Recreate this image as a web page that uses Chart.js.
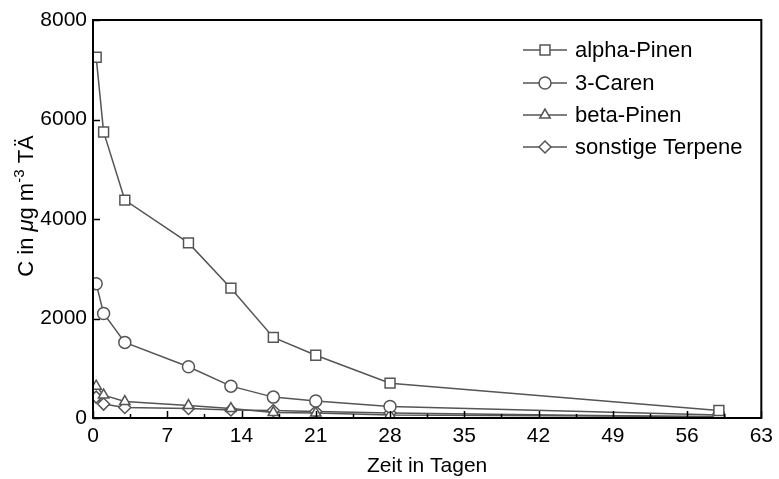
<!DOCTYPE html>
<html>
<head>
<meta charset="utf-8">
<script src="https://cdn.jsdelivr.net/npm/chart.js@4/dist/chart.umd.min.js"></script>
<style>
  html, body { margin: 0; padding: 0; background: #fff; }
  #wrap { width: 779px; height: 479px; }
</style>
</head>
<body>
<div id="wrap"><canvas id="chart" width="779" height="479"></canvas></div>
<script>
// Data
const days = [0.3, 1, 3, 9, 13, 17, 21, 28, 59];
const alphaPinen = [7250, 5750, 4380, 3520, 2610, 1620, 1260, 700, 150];
const caren3 = [2700, 2100, 1520, 1030, 640, 420, 340, 230, 60];
const betaPinen = [640, 460, 330, 250, 190, 110, 100, 60, 30];
const sonstige = [420, 280, 210, 190, 160, 150, 130, 100, 20];

const seriesNames = ['alpha-Pinen', '3-Caren', 'beta-Pinen', 'sonstige Terpene'];
const xTicks = [0, 7, 14, 21, 28, 35, 42, 49, 56, 63];
const yTicks = [0, 2000, 4000, 6000, 8000];

const FONT = '"Liberation Sans", Arial, Helvetica, sans-serif';
const GREY = '#555';

function makeSet(label, values, style, radius) {
  return {
    label,
    data: days.map((d, i) => ({ x: d, y: values[i] })),
    borderColor: GREY,
    borderWidth: 1.5,
    pointStyle: style,
    pointRadius: radius,
    pointBorderColor: GREY,
    pointBorderWidth: 1.5,
    pointBackgroundColor: '#fff',
    tension: 0,
    clip: 0
  };
}

// frame, inward ticks, titles and legend
const decorations = {
  id: 'decorations',
  afterDraw(chart) {
    const ctx = chart.ctx;
    const a = chart.chartArea;
    const xs = chart.scales.x, ys = chart.scales.y;
    ctx.save();
    ctx.strokeStyle = '#000';
    ctx.lineWidth = 1.5;
    // ticks
    ctx.beginPath();
    for (let v = 0; v <= 63; v += 3.5) {
      const px = Math.round(xs.getPixelForValue(v)) + 0.5;
      const len = (v % 7 === 0) ? 7 : 4;
      ctx.moveTo(px, a.bottom);
      ctx.lineTo(px, a.bottom - len);
    }
    yTicks.forEach(v => {
      const py = Math.round(ys.getPixelForValue(v)) + 0.5;
      ctx.moveTo(a.left, py);
      ctx.lineTo(a.left + 7, py);
    });
    ctx.stroke();
    // frame
    ctx.lineWidth = 2;
    ctx.strokeRect(a.left, a.top, a.right - a.left, a.bottom - a.top);

    // y title with italic mu and superscript
    ctx.fillStyle = '#000';
    ctx.textBaseline = 'alphabetic';
    const parts = [
      { t: 'C in ', f: '22px ' + FONT, dy: 0 },
      { t: 'μ', f: 'italic 22px ' + FONT, dy: 0 },
      { t: 'g m', f: '22px ' + FONT, dy: 0 },
      { t: '-3', f: '15px ' + FONT, dy: -9 },
      { t: ' TÄ', f: '22px ' + FONT, dy: 0 }
    ];
    let total = 0;
    parts.forEach(p => { ctx.font = p.f; p.w = ctx.measureText(p.t).width; total += p.w; });
    ctx.translate(33, 206);
    ctx.rotate(-Math.PI / 2);
    let cx = -total / 2;
    parts.forEach(p => {
      ctx.font = p.f;
      ctx.fillText(p.t, cx, p.dy);
      cx += p.w;
    });
    ctx.setTransform(1, 0, 0, 1, 0, 0);

    // legend
    const rows = [50, 83, 115, 147];
    chart.data.datasets.forEach((ds, i) => {
      const y = rows[i];
      ctx.strokeStyle = GREY;
      ctx.lineWidth = 1.5;
      ctx.beginPath();
      ctx.moveTo(523, y);
      ctx.lineTo(567, y);
      ctx.stroke();
      ctx.fillStyle = '#fff';
      Chart.helpers.drawPoint(ctx, {
        pointStyle: ds.pointStyle,
        radius: ds.pointRadius,
        borderWidth: 1.5,
        rotation: 0
      }, 545, y);
      ctx.fillStyle = '#000';
      ctx.font = '22px ' + FONT;
      ctx.textBaseline = 'middle';
      ctx.fillText(ds.label, 575, y + 1);
    });
    ctx.restore();
  }
};

new Chart(document.getElementById('chart'), {
  type: 'line',
  data: {
    datasets: [
      makeSet(seriesNames[0], alphaPinen, 'rect', 7),
      makeSet(seriesNames[1], caren3, 'circle', 6),
      makeSet(seriesNames[2], betaPinen, 'triangle', 6),
      makeSet(seriesNames[3], sonstige, 'rectRot', 6)
    ]
  },
  options: {
    responsive: false,
    animation: false,
    layout: { padding: { top: 20, right: 14, left: 0, bottom: 0 } },
    plugins: { legend: { display: false }, tooltip: { enabled: false } },
    scales: {
      x: {
        type: 'linear',
        min: 0,
        max: 63,
        afterBuildTicks: s => { s.ticks = xTicks.map(v => ({ value: v })); },
        afterFit: s => { s.height = 61; },
        grid: { display: false, drawTicks: false },
        border: { display: false },
        ticks: { color: '#000', padding: 6, maxRotation: 0, autoSkip: false, font: { family: FONT, size: 21 } },
        title: {
          display: true,
          text: 'Zeit in Tagen',
          color: '#000',
          padding: { top: 2, bottom: 0 },
          font: { family: FONT, size: 21 }
        }
      },
      y: {
        min: 0,
        max: 8000,
        afterBuildTicks: s => { s.ticks = yTicks.map(v => ({ value: v })); },
        afterFit: s => { s.width = 93; },
        grid: { display: false, drawTicks: false },
        border: { display: false },
        ticks: {
          color: '#000',
          padding: 6,
          callback: v => String(v),
          font: { family: FONT, size: 21 }
        }
      }
    }
  },
  plugins: [decorations]
});
</script>
</body>
</html>
